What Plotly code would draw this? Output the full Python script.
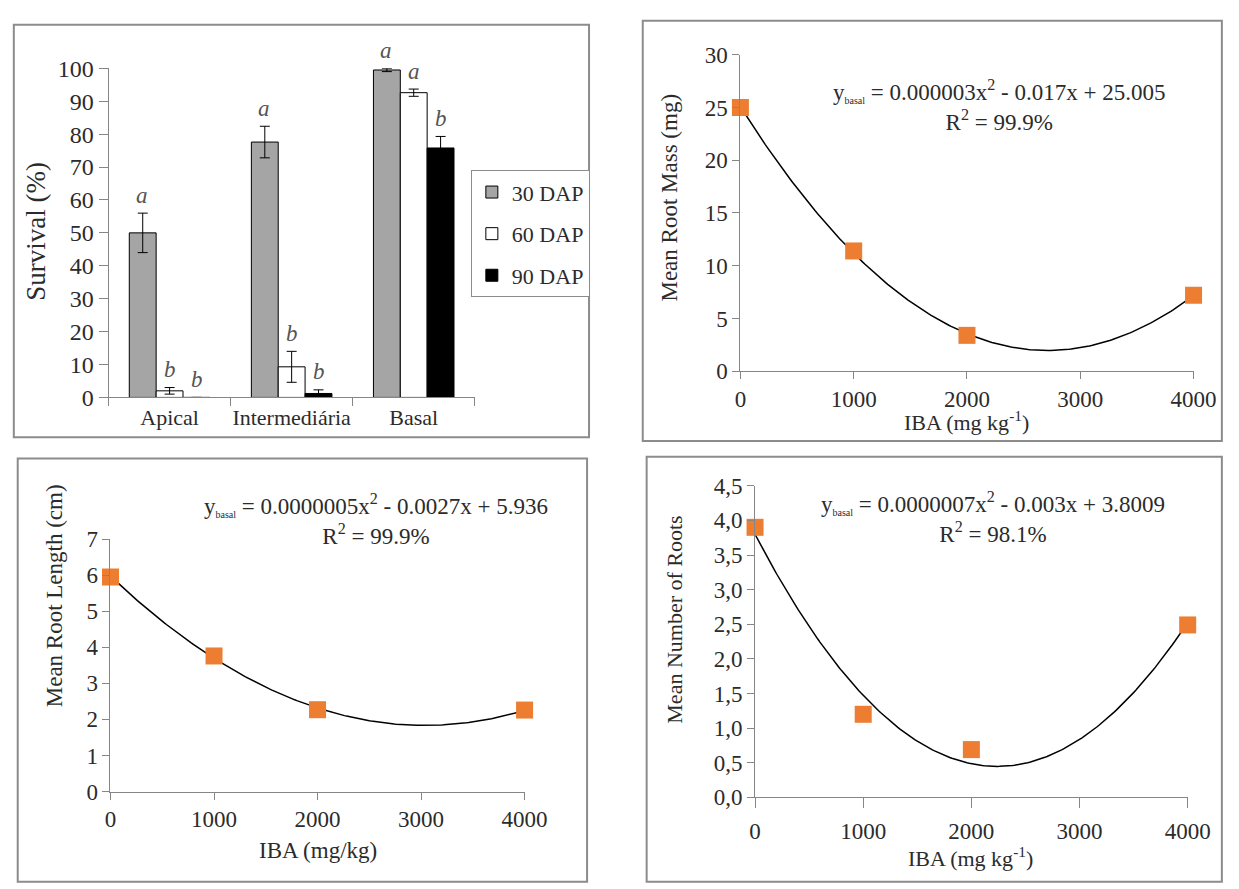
import numpy as np
import plotly.graph_objects as go

W, H = 1239, 889
SERIF = "Liberation Serif"
TXT = "#2b2b2b"
AX = "#868686"

# ---------------- data ----------------
positions = ["Apical", "Intermediária", "Basal"]
dap_labels = ["30 DAP", "60 DAP", "90 DAP"]
survival_30 = [50.0, 77.6, 99.5]
survival_30_err = [6.0, 4.8, 0.5]
survival_60 = [2.0, 9.3, 92.6]
survival_60_err = [1.0, 4.7, 1.1]
survival_90 = [0.0, 1.2, 75.8]
survival_90_err = [0.0, 1.1, 3.5]
letters_30 = ["a", "a", "a"]
letters_60 = ["b", "b", "a"]
letters_90 = ["b", "b", "b"]

iba_doses = [0, 1000, 2000, 4000]
root_mass = [25.0, 11.4, 3.4, 7.2]
root_length = [5.95, 3.76, 2.27, 2.26]
root_number = [3.9, 1.2, 0.69, 2.49]

SUB = "<sub><span style='font-size:10px'>basal</span></sub>"
eq_mass = "y" + SUB + " = 0.000003x<sup>2</sup> - 0.017x + 25.005<br>R<sup>2</sup> = 99.9%"
eq_length = "y" + SUB + " = 0.0000005x<sup>2</sup> - 0.0027x + 5.936<br>R<sup>2</sup> = 99.9%"
eq_number = "y" + SUB + " = 0.0000007x<sup>2</sup> - 0.003x + 3.8009<br>R<sup>2</sup> = 98.1%"


def px_x(v):
    return v / W


def px_y(v):
    return 1 - v / H


fig = go.Figure()

# ---------------- panel 1: survival bars ----------------
bar_series = [
    (dap_labels[0], survival_30, survival_30_err, "#a5a5a5", letters_30),
    (dap_labels[1], survival_60, survival_60_err, "#ffffff", letters_60),
    (dap_labels[2], survival_90, survival_90_err, "#000000", letters_90),
]
for i, (name, vals, errs, col, _) in enumerate(bar_series):
    fig.add_trace(go.Bar(
        x=positions, y=vals, name=name,
        marker=dict(color=col, line=dict(color="#000000", width=1)),
        error_y=dict(type="data", array=errs, visible=True, color="#000000", thickness=1, width=5),
        xaxis="x", yaxis="y", legendgroup=name,
    ))

x1_dom = [px_x(105), px_x(480)]
y1_dom = [px_y(396), px_y(57)]
bargap = 0.34
cat_w = (x1_dom[1] - x1_dom[0]) * W / len(positions)
bar_w = cat_w * (1 - bargap) / 3

annotations = []
for i, (name, vals, errs, col, lets) in enumerate(bar_series):
    for j, cat in enumerate(positions):
        annotations.append(dict(
            x=cat, y=vals[j] + errs[j], xref="x", yref="y",
            text=lets[j], showarrow=False, xshift=(i - 1) * bar_w, yshift=18,
            yanchor="middle", font=dict(family=SERIF, size=23, color="#555555", style="italic"),
        ))

# ---------------- scatter panels ----------------
panels = [
    ("x2", "y2", root_mass),
    ("x3", "y3", root_length),
    ("x4", "y4", root_number),
]
for xa, ya, vals in panels:
    coeffs = np.polyfit(iba_doses, vals, 2)
    xs = np.linspace(min(iba_doses), max(iba_doses), 201)
    fig.add_trace(go.Scatter(
        x=xs, y=np.polyval(coeffs, xs), mode="lines",
        line=dict(color="#000000", width=1.5), showlegend=False,
        xaxis=xa, yaxis=ya, cliponaxis=False,
    ))
    fig.add_trace(go.Scatter(
        x=iba_doses, y=vals, mode="markers",
        marker=dict(symbol="square", size=17, color="#ED7D31"),
        showlegend=False, xaxis=xa, yaxis=ya, cliponaxis=False,
    ))

tick_font = dict(family=SERIF, size=23, color=TXT)


def lin_axis(domain, anchor, rng, dtick, fmt=None, standoff=None, ticklen=7):
    d = dict(domain=domain, anchor=anchor, range=rng, dtick=dtick, showline=True,
             linecolor=AX, linewidth=1, ticks="outside", ticklen=ticklen, tickcolor=AX,
             showgrid=False, zeroline=False, tickfont=tick_font)
    if fmt:
        d["tickformat"] = fmt
    if standoff is not None:
        d["ticklabelstandoff"] = standoff
    return d


layout = dict(
    width=W, height=H, margin=dict(l=0, r=0, t=0, b=0),
    paper_bgcolor="white", plot_bgcolor="rgba(0,0,0,0)",
    font=dict(family=SERIF, color=TXT),
    barmode="group", bargap=bargap, bargroupgap=0,
    separators=",.",
    showlegend=True,
    legend=dict(x=px_x(476), y=px_y(162), xanchor="left", yanchor="top",
                bordercolor="#8c8c8c", borderwidth=1, bgcolor="white",
                font=dict(family=SERIF, size=22, color=TXT),
                tracegroupgap=10, traceorder="grouped", itemwidth=30),
    xaxis=dict(domain=x1_dom, anchor="y", type="category", showline=True, linecolor=AX,
               ticks="outside", tickson="boundaries", ticklen=8, tickcolor=AX, tickangle=0,
               tickfont=dict(family=SERIF, size=22, color=TXT)),
    yaxis=dict(domain=y1_dom, anchor="x", range=[0, 100], dtick=10, showline=True,
               linecolor=AX, ticks="outside", ticklen=9, tickcolor=AX, showgrid=False,
               zeroline=False, tickfont=dict(family=SERIF, size=24, color=TXT)),
    xaxis2=lin_axis([px_x(752), px_x(1216)], "y2", [0, 4000], 1000),
    yaxis2=lin_axis([px_y(369), px_y(43)], "x2", [0, 30], 5),
    xaxis3=lin_axis([px_x(107), px_x(531)], "y3", [0, 4000], 1000),
    yaxis3=lin_axis([px_y(802), px_y(542)], "x3", [0, 7], 1),
    xaxis4=lin_axis([px_x(767), px_x(1210)], "y4", [0, 4000], 1000, standoff=3, ticklen=10),
    yaxis4=lin_axis([px_y(808), px_y(487)], "x4", [0, 4.5], 0.5, ".1f"),
)


def paper_text(x, y, text, size=23, angle=0):
    return dict(x=px_x(x), y=px_y(y), xref="paper", yref="paper", text=text,
                showarrow=False, textangle=angle, xanchor="center", yanchor="middle",
                font=dict(family=SERIF, size=size, color=TXT))


annotations += [
    paper_text(31, 225, "Survival (%)", 27, -90),
    paper_text(679, 190, "Mean Root Mass (mg)", 23, -90),
    paper_text(984, 420, "IBA (mg kg<sup>-1</sup>)", 22),
    paper_text(1017, 95, eq_mass, 23),
    paper_text(50, 600, "Mean Root Length (cm)", 23, -90),
    paper_text(319, 863, "IBA (mg/kg)", 23),
    paper_text(379, 522, eq_length, 23),
    paper_text(685, 625, "Mean Number of Roots", 22, -90),
    paper_text(988, 869, "IBA (mg kg<sup>-1</sup>)", 22),
    paper_text(1011, 520, eq_number, 23),
]
layout["annotations"] = annotations

frames = [(8, 12, 597, 437), (652, 8, 1245, 441), (12, 459, 595, 895), (656, 457, 1245, 895)]
layout["shapes"] = [
    dict(type="rect", xref="paper", yref="paper", x0=px_x(a), y0=px_y(b), x1=px_x(c), y1=px_y(d),
         line=dict(color="#8c8c8c", width=2), layer="below")
    for a, b, c, d in frames
]

fig.update_layout(**layout)
fig.write_html("out.html", config={"displayModeBar": False},
               post_script="document.body.style.margin='0';document.body.style.overflow='hidden';")
